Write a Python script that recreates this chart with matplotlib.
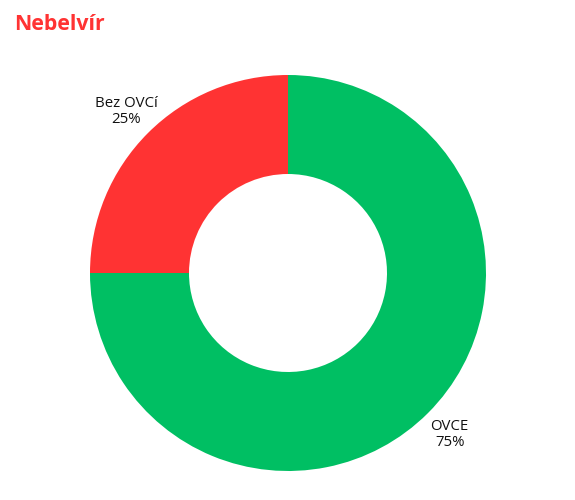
import matplotlib
matplotlib.use("Agg")
import matplotlib.pyplot as plt

categories = ["OVCE", "Bez OVCí"]
values = [75, 25]
colors = ["#00BF63", "#FF3333"]
title = "Nebelvír"

W, H = 575, 500
cx, cy, R = 288, 273, 198

fig = plt.figure(figsize=(W / 100, H / 100), dpi=100)
ax = fig.add_axes([0, 0, 1, 1])

total = sum(values)
wedges, texts = ax.pie(
    values,
    labels=[f"{c}\n{v / total * 100:.0f}%" for c, v in zip(categories, values)],
    colors=colors,
    startangle=90,
    counterclock=False,
    radius=1,
    labeldistance=1.155,
    wedgeprops=dict(width=0.5, edgecolor="none"),
    textprops=dict(fontsize=10.8, family="Open Sans", color="#111111", linespacing=1.05),
    frame=True,
)
ax.set_xlim(-cx / R, (W - cx) / R)
ax.set_ylim(-(H - cy) / R, cy / R)
ax.set_aspect("equal")
ax.axis("off")
for t in texts:
    t.set_ha("center")
    t.set_va("center")
    t.set_multialignment("center")

fig.text(14 / W, 1 - 25 / H, title, fontsize=15.3, fontweight="bold",
         family="Open Sans", color="#FF3333", ha="left", va="center")

fig.savefig("out.png", dpi=100)
